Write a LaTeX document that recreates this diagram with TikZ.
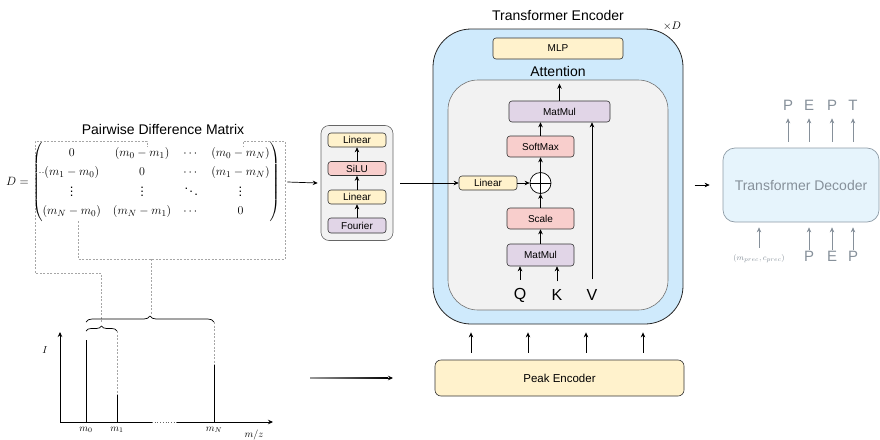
\documentclass[tikz,border=0pt]{standalone}
\usepackage{amsmath}
\usepackage[no-math]{fontspec}
\setmainfont{Liberation Sans}
\usetikzlibrary{arrows.meta,calc,decorations.pathreplacing}
\definecolor{cYel}{HTML}{FFF2CC}
\definecolor{cRed}{HTML}{F8CECC}
\definecolor{cPur}{HTML}{E1D5E7}
\definecolor{cBlue}{HTML}{CFEAFC}
\definecolor{cGray}{HTML}{F2F2F2}
\definecolor{cDec}{HTML}{E6F4FC}
\definecolor{cDecB}{HTML}{8E9BA6}
\definecolor{cDecT}{HTML}{86909A}
\newcommand{\myfs}[1]{\fontsize{#1}{#1}\selectfont}
\tikzset{
  blk/.style={draw=black!80, rounded corners=3pt, line width=0.6pt, font=\myfs{10}, inner sep=0pt},
  yel/.style={blk, fill=cYel},
  red/.style={blk, fill=cRed},
  pur/.style={blk, fill=cPur},
  arr/.style={-{Stealth[length=5pt,width=4.5pt]}, line width=0.7pt},
  garr/.style={arr, draw=cDecT},
  dsh/.style={draw=black!35, line width=0.5pt, dash pattern=on 2pt off 1.5pt},
  ttl/.style={font=\myfs{14}},
}
\begin{document}
\begin{tikzpicture}[x=1pt,y=-1pt]
\useasboundingbox (0,0) rectangle (880,439);

% ---------- Pairwise difference matrix ----------
\node[ttl] (pdmT) at (163,129) {Pairwise Difference Matrix};
\node[anchor=west, inner sep=0pt, font=\fontsize{13}{15.6}\selectfont] (D) at (6,182)
 {\renewcommand{\arraystretch}{1.2}\setlength{\arraycolsep}{6pt}$D=\begin{pmatrix}0 & (m_0-m_1) & \cdots & (m_0-m_N)\\ (m_1-m_0) & 0 & \cdots & (m_1-m_N)\\ \vdots & \vdots & \ddots & \vdots\\ (m_N-m_0)&(m_N-m_1)&\cdots&0\end{pmatrix}$};

% dashed guides
\draw[dsh] (101,322) -- (101,273) -- (35,273) -- (35,141) -- (147,141) -- (147,147);
\draw[dsh] (35,172) -- (44,172);
\draw[dsh] (78,221) -- (78,259) -- (285,259) -- (285,141) -- (243,141) -- (243,147);
\draw[dsh] (151,259) -- (151,315);
\draw[dsh] (117,331) -- (117,395);
\draw[dsh] (214,322) -- (214,365);

% ---------- Spectrum ----------
\coordinate (orig) at (60,422);
\coordinate (ytop) at (60,332);
\coordinate (gap1) at (152,422);
\coordinate (gap2) at (177,422);
\coordinate (xend) at (273,422);
\draw[arr] (orig) -- (ytop);
\draw[line width=0.7pt] (orig) -- (gap1);
\draw[line width=0.7pt, dotted, draw=black!60] (gap1) -- (gap2);
\draw[arr] (gap2) -- (xend);
\draw[line width=0.8pt] (86,422) -- (86,340);
\draw[line width=0.8pt] (117,422) -- (117,395);
\draw[line width=0.8pt] (214,422) -- (214,365);
\node[font=\myfs{10}] (lm0) at (86,430) {$m_0$};
\node[font=\myfs{10}] (lm1) at (117,430) {$m_1$};
\node[font=\myfs{10}] (lmN) at (214,430) {$m_N$};
\node[font=\myfs{10}] (lmz) at (254,435) {$m/z$};
\node[font=\myfs{10}] (lI) at (45,350) {$I$};
\draw[decorate, decoration={brace, amplitude=6pt}, line width=0.7pt] (86,322) -- (214,322);
\draw[decorate, decoration={brace, amplitude=5pt}, line width=0.7pt] (86,331) -- (117,331);

% bottom arrow to peak encoder
\coordinate (ba1) at (310,378);
\coordinate (ba2) at (393,378);
\shade[left color=black!40, right color=black] (310,377.4) rectangle (388,378.6);
\draw[arr] (386,378) -- (ba2);

% ---------- Fourier module ----------
\node[draw=black!60, fill=cGray, rounded corners=8pt, minimum width=72pt, minimum height=115pt, line width=0.6pt] (mod) at (357,183) {};
\node[yel, minimum width=58pt, minimum height=14pt] (lin1) at (357,140) {Linear};
\node[red, minimum width=58pt, minimum height=14pt] (silu) at (357,168.5) {SiLU};
\node[yel, minimum width=58pt, minimum height=14pt] (lin2) at (357,197) {Linear};
\node[pur, minimum width=58pt, minimum height=15pt] (four) at (357,225.5) {Fourier};
\draw[arr] (four) -- (lin2);
\draw[arr] (lin2) -- (silu);
\draw[arr] (silu) -- (lin1);
\draw[arr] ($(D.east)+(7,0)$) -- ($(mod.west)+(-3,0)$);

% ---------- Transformer encoder ----------
\node[draw=black!85, fill=cBlue, rounded corners=38pt, minimum width=250pt, minimum height=295pt, line width=0.8pt] (enc) at (558,176.5) {};
\node[ttl] (encT) at (558,15) {Transformer Encoder};
\node[font=\myfs{11}] (xD) at (672,26) {$\times D$};
\node[yel, minimum width=130pt, minimum height=21pt] (mlp) at (558,48.5) {MLP};
\node[ttl] (attT) at (558,71) {Attention};
\node[draw=black!55, fill=cGray, rounded corners=30pt, minimum width=220pt, minimum height=230pt, line width=0.6pt] (att) at (558,195) {};
\node[pur, minimum width=101pt, minimum height=21pt] (mm1) at (559.5,111.5) {MatMul};
\node[red, minimum width=67pt, minimum height=21pt] (soft) at (540.5,146.5) {SoftMax};
\node[circle, draw=black, line width=0.7pt, fill=white, minimum size=21pt, inner sep=0pt] (plus) at (540.5,183) {};
\draw[line width=0.7pt] (plus.north) -- (plus.south) (plus.west) -- (plus.east);
\node[yel, minimum width=58pt, minimum height=14pt] (lina) at (488,183) {Linear};
\node[red, minimum width=67pt, minimum height=21pt] (scale) at (540.5,218.5) {Scale};
\node[pur, minimum width=67pt, minimum height=22pt] (mm2) at (540.5,255) {MatMul};
\node[font=\myfs{16}, inner sep=1pt] (Q) at (520,295) {Q};
\node[font=\myfs{16}, inner sep=1pt] (K) at (557,295) {K};
\node[font=\myfs{16}, inner sep=1pt] (V) at (592,295) {V};

\draw[arr] (mm1.north) -- ($(mm1.north |- att.north)+(0,4)$);
\draw[arr] (soft.north) -- (soft.north |- mm1.south);
\draw[arr] (plus) -- (soft);
\draw[arr] (scale) -- (plus);
\draw[arr] (mm2) -- (scale);
\draw[arr] (lina) -- (plus);
\draw[arr] ($(Q.north)+(0,-7)$) -- (Q.north |- mm2.south);
\draw[arr] ($(K.north)+(0,-7)$) -- (K.north |- mm2.south);
\draw[arr] ($(V.north)+(0,-9)$) -- (V.north |- mm1.south);
\draw[arr] ($(mod.east)+(7,0)$) -- (lina.west);

% ---------- Peak encoder ----------
\node[yel, rounded corners=6pt, minimum width=249pt, minimum height=36pt, font=\myfs{11.5}] (pe) at (559.5,378) {Peak Encoder};
\foreach \dx in {-88.5,-31.5,26.5,83.5}
  \draw[arr] ($(pe.north)+(\dx,-7)$) -- ($(pe.north |- enc.south)+(\dx,8)$);

% ---------- Transformer decoder ----------
\node[draw=cDecB, fill=cDec, rounded corners=12pt, minimum width=156pt, minimum height=74pt, line width=0.7pt, text=cDecT, font=\myfs{14}] (dec) at (801,185) {Transformer Decoder};
\draw[arr] ($(dec.west)+(-28,0)$) -- ($(dec.west)+(-13,0)$);
\node[font=\myfs{15}, text=cDecT, inner sep=1pt] (o1) at (788,105) {P};
\node[font=\myfs{15}, text=cDecT, inner sep=1pt] (o2) at (809,105) {E};
\node[font=\myfs{15}, text=cDecT, inner sep=1pt] (o3) at (832,105) {P};
\node[font=\myfs{15}, text=cDecT, inner sep=1pt] (o4) at (853,105) {T};
\foreach \o in {o1,o2,o3,o4}
  \draw[garr] ($(dec.north -| \o)+(0,-6)$) -- ($(\o.south)+(0,7)$);
\node[font=\myfs{8}, text=cDecT, inner sep=1pt] (i1) at (759,259) {$(m_{prec},c_{prec})$};
\node[font=\myfs{15}, text=cDecT, inner sep=1pt] (i2) at (809,256) {P};
\node[font=\myfs{15}, text=cDecT, inner sep=1pt] (i3) at (832,256) {E};
\node[font=\myfs{15}, text=cDecT, inner sep=1pt] (i4) at (853,256) {P};
\draw[garr] ($(i1.north)+(0,-6)$) -- ($(dec.south -| i1)+(0,5)$);
\foreach \i in {i2,i3,i4}
  \draw[garr] (\i.north) -- ($(dec.south -| \i)+(0,5)$);
\end{tikzpicture}
\end{document}
